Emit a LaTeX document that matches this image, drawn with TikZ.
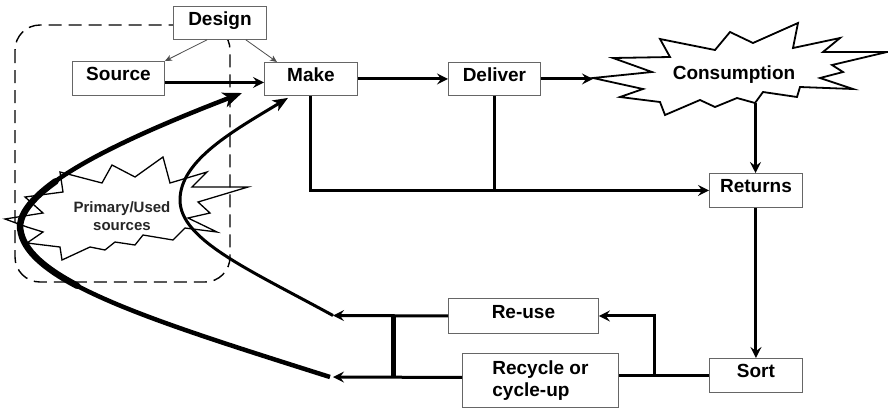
\documentclass[tikz,border=0pt]{standalone}
\usepackage{fontspec}
\setmainfont{Liberation Sans}
\usetikzlibrary{arrows.meta,calc}
\begin{document}
\begin{tikzpicture}[x=1pt,y=-1pt,
  lbl/.style={font=\bfseries\fontsize{19}{22}\selectfont},
  box/.style={lbl, draw=black!60, line width=0.9pt, fill=white, anchor=north west,
    inner sep=0pt, text height=14pt, text depth=9pt},
  flow/.style={line width=3pt, -{Stealth[length=11pt,width=11pt,inset=4pt]}},
  link/.style={line width=3pt},
  hint/.style={line width=0.8pt, draw=black!70, -{Stealth[length=7pt,width=6pt,inset=2pt]}},
  burst/.style={draw, line join=miter, miter limit=30},
  group/.style={line width=1.4pt, dash pattern=on 13pt off 7pt, rounded corners=25pt},
]
\useasboundingbox (0,0) rectangle (888,408);

% grouping frame round the sourcing stage
\draw[group] (15,25) rectangle (230,282);

% primary / used sources burst
\draw[burst, line width=1.3pt]
  (5,219) -- (43,213) -- (25,197) -- (63,192) -- (60,172) -- (102,183) -- (112,165)
  -- (135,177) -- (163,157) -- (170,183) -- (207,172) -- (192,187) -- (248,187)
  -- (198,202) -- (210,213) -- (188,218) -- (217,232) -- (185,228) -- (173,240)
  -- (143,235) -- (135,245) -- (115,242) -- (105,250) -- (90,247) -- (62,260)
  -- (60,247) -- (27,243) -- (43,232) -- (27,227) -- cycle;
\node[font=\bfseries\fontsize{15}{18}\selectfont, align=center, text=black!85]
  (prim) at (122,216) {Primary/Used\\sources};

% consumption burst
\draw[burst, line width=1.8pt, fill=white]
  (593,78) -- (652,72) -- (613,58) -- (670,57) -- (660,39) -- (715,50) -- (730,32)
  -- (753,43) -- (798,23) -- (793,48) -- (840,38) -- (823,52) -- (887,52)
  -- (832,65) -- (843,72) -- (820,78) -- (853,89) -- (800,87) -- (797,97)
  -- (763,92) -- (755,103) -- (737,98) -- (715,107) -- (700,100) -- (665,115)
  -- (660,102) -- (620,97) -- (643,89) -- cycle;
\coordinate (constip) at (593,78);
\coordinate (consfoot) at (755.5,103);
\node[lbl, text height=14pt, text depth=9pt, inner sep=0pt] (cons) at (734,77) {Consumption};

% process boxes
\node[box, minimum width=93pt, minimum height=33pt] (design)  at (173,6)   {Design};
\node[box, minimum width=92pt, minimum height=34pt] (source)  at (72,61)   {Source};
\node[box, minimum width=93pt, minimum height=33pt] (make)    at (264,62)  {Make};
\node[box, minimum width=92pt, minimum height=33pt] (deliver) at (448,62)  {Deliver};
\node[box, minimum width=93pt, minimum height=34pt] (returns) at (709,173) {Returns};
\node[box, minimum width=93pt, minimum height=34pt] (sort)    at (709,358) {Sort};
\node[box, minimum width=150pt, minimum height=35pt] (reuse)  at (448,298) {Re-use};
\node[lbl, draw=black!60, line width=0.9pt, fill=white, anchor=north west, inner sep=0pt,
  minimum width=156pt, minimum height=54pt, align=left] (recycle) at (462,353)
  {Recycle or\\cycle-up};

% design feeds sourcing and making
\draw[hint] ([xshift=-13pt]design.south) -- (source.north east);
\draw[hint] ([xshift=26pt]design.south) -- ([xshift=13pt]make.north west);

% forward chain
\draw[flow] ([yshift=-4pt]source.east) -- ([yshift=-4pt]source.east -| make.west);
\draw[flow] (make.east) -- (make.east -| deliver.west);
\draw[flow] (deliver.east) -- (deliver.east -| constip);
\draw[flow] (consfoot) -- (consfoot |- returns.north);

% returns from making and delivery
\draw[link] (deliver.south) -- (deliver.south |- returns.west);
\draw[flow, rounded corners=0pt] (make.south) |- (returns.west);

% sorting and recovery
\draw[flow] (returns.south) -- (sort.north);
\coordinate (split) at (654,375);
\draw[link] (sort.west) -- (sort.west -| recycle.east);
\draw[flow] (split) |- (reuse.east);

\coordinate (tipA) at (333,315.5);
\coordinate (tipB) at (333,377);
\coordinate (barT) at (393,315.5);
\coordinate (barB) at (393,377);
\draw[flow] (reuse.west) -- (tipA);
\draw[flow] ([yshift=3pt]recycle.west) -- (tipB);
\draw[line width=5pt] (barT) -- (barB);

% return loops back to making
\draw[line width=3pt, -{Stealth[length=15pt,width=12pt,inset=4pt]}]
  (tipA) .. controls (250,270) and (180,240) .. (180,200)
         .. controls (180,160) and (235,130) .. ([xshift=24pt,yshift=-2pt]make.south west);
\draw[line width=4.5pt, -{Stealth[length=19pt,width=15pt,inset=5pt]}]
  ([xshift=-3pt]tipB) .. controls (150,320) and (20,280) .. (20,225)
         .. controls (25,185) and (120,140) .. (242,93);
% heavier stroke where the outer loop turns
\draw[line width=6.5pt, line cap=round]
  (77.3,285.8) .. controls (40.8,266.6) and (20,247) .. (20,225)
               .. controls (21.75,211) and (34.5,196.4) .. (55.6,181.3);
\end{tikzpicture}
\end{document}
